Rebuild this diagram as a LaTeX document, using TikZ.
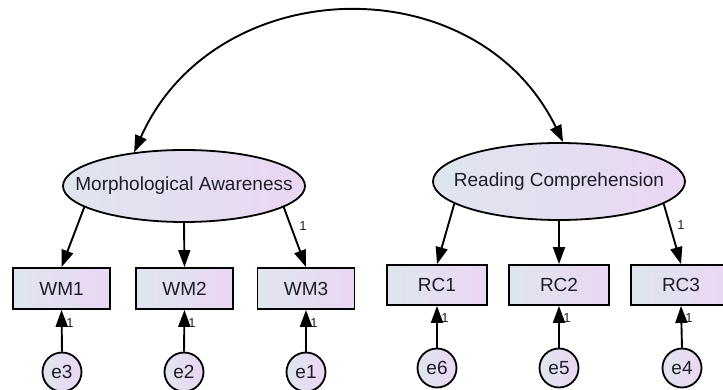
\documentclass[tikz,border=0pt]{standalone}
\usepackage{fontspec}
\setmainfont{Liberation Sans}
\usetikzlibrary{shapes.geometric,arrows.meta}
\definecolor{fillL}{RGB}{222,230,237}
\definecolor{fillR}{RGB}{235,214,243}
\definecolor{txt}{RGB}{30,30,40}
\tikzset{
  base/.style={draw=black, line width=1.8pt, left color=fillL, right color=fillR, text=txt,
    font=\fontsize{19}{22}\selectfont, inner sep=0pt},
  latent/.style={base, ellipse},
  obs/.style={base, rectangle},
  err/.style={base, circle, minimum size=39pt},
  arr/.style={line width=1.9pt, -{Triangle[length=17pt,width=12pt]}},
  wt/.style={font=\fontsize{13}{15}\selectfont, text=txt, inner sep=0pt}
}
\begin{document}
\begin{tikzpicture}[x=1pt,y=1pt]
\useasboundingbox (0,0) rectangle (723,390);
\node[latent, minimum width=242pt, minimum height=72pt] (ma) at (184,204) {\makebox[0pt]{Morphological Awareness}};
\node[latent, minimum width=252pt, minimum height=77pt] (rc) at (559,208.5) {\makebox[0pt]{Reading Comprehension}};
\node[obs, minimum width=97pt, minimum height=41pt] (wm1) at (61.5,101.5) {WM1};
\node[obs, minimum width=97pt, minimum height=41pt] (wm2) at (184.5,101.5) {WM2};
\node[obs, minimum width=97pt, minimum height=41pt] (wm3) at (306,101.5) {WM3};
\node[obs, minimum width=100pt, minimum height=40pt] (rc1) at (437,105) {RC1};
\node[obs, minimum width=100pt, minimum height=40pt] (rc2) at (559,105) {RC2};
\node[obs, minimum width=100pt, minimum height=40pt] (rc3) at (681,105) {RC3};
\node[err] (e3) at (62,18) {e3};
\node[err] (e2) at (184,18) {e2};
\node[err] (e1) at (306,18) {e1};
\node[err] (e6) at (437,22) {e6};
\node[err] (e5) at (559,22) {e5};
\node[err] (e4) at (682,22) {e4};
% covariance
\draw[line width=1.9pt, {Triangle[length=17pt,width=12pt]}-{Triangle[length=17pt,width=12pt]}]
  (ma.146) .. controls +(66:198) and +(116:198) .. (rc.84);
% loadings
\draw[arr] (ma.192) -- (wm1.north);
\draw[arr] (ma.south) -- (wm2.north);
\draw[arr] (ma.-12) -- (wm3.north);
\draw[arr] (rc.192) -- (rc1.north);
\draw[arr] (rc.south) -- (rc2.north);
\draw[arr] (rc.-12) -- (rc3.north);
% errors
\draw[arr] (e3.north) -- (wm1.south);
\draw[arr] (e2.north) -- (wm2.south);
\draw[arr] (e1.north) -- (wm3.south);
\draw[arr] (e6.north) -- (rc1.south);
\draw[arr] (e5.north) -- (rc2.south);
\draw[arr] (e4.north) -- (rc3.south);
% weights
\node[wt] (w1) at (303,164) {1};
\node[wt] (w2) at (681,165) {1};
\node[wt] (w3) at (70,67) {1};
\node[wt] (w4) at (192,67) {1};
\node[wt] (w5) at (314,67) {1};
\node[wt] (w6) at (445,72) {1};
\node[wt] (w7) at (567,72) {1};
\node[wt] (w8) at (689,72) {1};
\end{tikzpicture}
\end{document}
